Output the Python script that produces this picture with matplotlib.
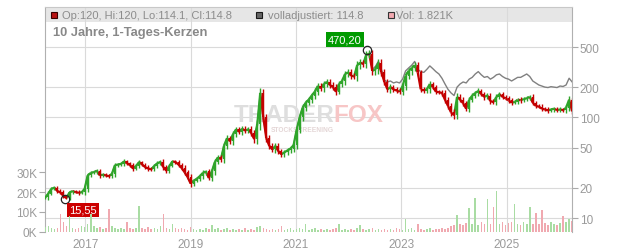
import matplotlib
matplotlib.use('Agg')
import matplotlib.pyplot as plt
import matplotlib.dates as mdates
from matplotlib.patches import Rectangle
from matplotlib.collections import LineCollection
from matplotlib.ticker import NullLocator
import pandas as pd

plt.rcParams['font.family'] = ['Liberation Sans', 'DejaVu Sans']

# ---------------- data ----------------
start_date = '2016-03-29'
period = '21D'
close = [
    16.0, 17.5, 19.5, 20.0, 18.5, 18.0, 16.5, 15.8, 18.0, 18.5,
    18.1, 17.8, 18.0, 19.5, 26.5, 28.0, 28.6, 29.5, 26.5, 27.0,
    26.5, 26.0, 27.5, 33.5, 34.0, 34.5, 36.5, 35.0, 33.5, 31.0,
    33.0, 36.0, 34.0, 32.0, 31.0, 30.5, 33.0, 35.0, 36.0, 32.0,
    29.5, 33.0, 36.5, 36.0, 34.0, 31.5, 28.5, 25.5, 22.0, 23.5,
    24.5, 26.0, 28.0, 29.0, 25.0, 29.0, 36.0, 40.0, 38.5, 52.0,
    62.0, 58.0, 68.0, 76.0, 72.0, 77.0, 74.0, 76.0, 70.0, 61.0,
    85.0, 175.0, 100.0, 62.0, 52.0, 48.0, 52.0, 46.0, 43.0, 45.0,
    47.0, 49.0, 53.0, 75.0, 100.0, 125.0, 140.0, 150.0, 165.0, 180.0,
    205.0, 195.0, 215.0, 225.0, 210.0, 200.0, 180.0, 215.0, 230.0, 270.0,
    280.0, 260.0, 255.0, 330.0, 350.0, 340.0, 420.0, 430.0, 290.0, 300.0,
    350.0, 280.0, 225.0, 190.0, 200.0, 190.0, 185.0, 180.0, 205.0, 260.0,
    290.0, 310.0, 330.0, 280.0, 190.0, 185.0, 190.0, 215.0, 200.0, 180.0,
    178.0, 175.0, 150.0, 130.0, 112.0, 105.0, 160.0, 150.0, 138.0, 122.0,
    150.0, 165.0, 175.0, 183.0, 170.0, 160.0, 165.0, 145.0, 142.0, 160.0,
    170.0, 160.0, 155.0, 148.0, 140.0, 142.0, 150.0, 148.0, 152.0, 155.0,
    160.0, 140.0, 130.0, 128.0, 122.0, 120.0, 117.0, 120.0, 122.0, 118.0,
    120.0, 118.0, 125.0, 150.0, 114.8,
]
# estimated intra-period price range (percent above/below body), read from ribbon thickness
range_pct = [
    4, 5, 4, 3, 5, 4, 5, 3, 4, 3,
    3, 4, 3, 5, 6, 4, 3, 4, 5, 3,
    4, 3, 5, 6, 4, 3, 5, 4, 3, 5,
    4, 5, 3, 4, 5, 3, 4, 5, 4, 6,
    5, 4, 3, 4, 5, 4, 6, 5, 7, 5,
    4, 5, 6, 4, 5, 6, 7, 5, 6, 8,
    7, 6, 8, 6, 5, 7, 6, 5, 7, 8,
    10, 12, 10, 9, 7, 6, 7, 6, 5, 6,
    5, 6, 7, 8, 7, 8, 7, 6, 7, 8,
    7, 6, 8, 7, 6, 7, 8, 6, 7, 8,
    7, 8, 6, 9, 8, 7, 9, 8, 9, 8,
    9, 8, 7, 6, 7, 6, 5, 6, 7, 8,
    7, 8, 7, 8, 6, 5, 6, 7, 5, 6,
    5, 6, 7, 6, 8, 9, 8, 6, 7, 6,
    7, 6, 5, 6, 5, 6, 5, 6, 5, 6,
    5, 4, 5, 6, 5, 4, 5, 6, 4, 5,
    5, 6, 5, 4, 5, 4, 5, 4, 5, 4,
    5, 4, 6, 8, 5,
]
# fully adjusted line where it separates from the candles (from period 108 on)
adj_start = 108
adj_tail = [
    300, 320, 360, 300, 235, 225, 230, 220, 225, 220,
    240, 290, 310, 330, 360, 300, 285, 280, 300, 325,
    305, 285, 270, 245, 215, 190, 175, 165, 200, 215,
    225, 220, 240, 250, 270, 285, 265, 250, 255, 240,
    250, 265, 270, 255, 245, 240, 230, 240, 250, 250,
    260, 270, 255, 230, 220, 210, 205, 200, 198, 202,
    200, 198, 205, 203, 210, 245, 225,
]
volume_k = [
    2.5, 3, 2, 1.5, 2, 9, 5, 3, 8, 2,
    1.5, 2, 3, 2.5, 4, 9, 3, 2, 2.5, 1.5,
    2, 11.5, 3, 2, 1.5, 2, 1.5, 5, 2, 1.5,
    2, 13, 2, 1.5, 2.5, 1.5, 2, 1.5, 3, 9,
    2, 1.5, 4, 2, 1.5, 2, 1.5, 1, 2.5, 1.5,
    1, 1.5, 1, 2, 1.5, 3.5, 1.5, 2, 1, 1.5,
    2, 1, 1.5, 1, 1.5, 1, 2, 1, 1.5, 1,
    2.5, 3, 2, 1.5, 1, 1.5, 1, 1.5, 3, 1,
    1.5, 2, 1, 1.5, 2, 1.5, 4, 1, 1.5, 2,
    1, 1.5, 1, 1.5, 1, 1.5, 2, 4, 1, 1.5,
    1, 1.5, 1, 2, 3.5, 1.5, 1, 1.5, 2, 1,
    1.5, 1, 1.5, 1, 1.5, 1, 2, 1.5, 1, 6.5,
    1.5, 2, 1, 4, 1.5, 1, 1.5, 2, 1, 1.5,
    1.5, 2, 1.5, 2, 3, 3.5, 8.5, 4, 3.5, 4.5,
    12, 4, 17, 3.5, 5, 4, 16.5, 4, 12.5, 20.5,
    4, 5, 3.5, 4.5, 5, 14, 4, 3.5, 5, 4,
    12.5, 4, 9.5, 4, 11, 4.5, 3.5, 5, 4, 3.5,
    4.5, 8, 5, 6.5, 5.5,
]
year_ticks = ['2017', '2019', '2021', '2023', '2025']
price_ticks = [10, 20, 50, 100, 200, 500]
vol_ticks = [0, 10, 20, 30]
vol_labels = ['0K', '10K', '20K', '30K']
x_range = ('2016-03-27', '2026-03-30')
hi_date, hi_val, hi_label = '2022-05-08', 470.2, '470,20'
lo_date, lo_val, lo_label = '2016-08-13', 15.55, '15,55'
header_ohlc = 'Op:120, Hi:120, Lo:114.1, Cl:114.8'
header_adj = 'volladjustiert: 114.8'
header_vol = 'Vol: 1.821K'
title = '10 Jahre, 1-Tages-Kerzen'

# ---------------- figure ----------------
W, H = 632, 253
fig = plt.figure(figsize=(W / 100, H / 100), dpi=100)
def P(x, y):
    return (x / W, 1 - y / H)

L, R, T, B = 45, 572, 8, 233
ax = fig.add_axes([L / W, (H - B) / H, (R - L) / W, (B - T) / H])
axv = ax.twinx()

dates = pd.date_range(start_date, periods=len(close), freq=period)
xd = mdates.date2num(dates)

GREEN = '#2fa52a'
RED = '#c40000'

# adjusted (grey) line, behind candles
adj = close[:adj_start] + adj_tail
ax.plot(xd, adj, color='#808080', lw=1.0, zorder=2)

# candles: open = previous close
opens = [close[0]] + close[:-1]
cols = [GREEN if c >= o else RED for o, c in zip(opens, close)]
segs = [[(xd[i - 1], close[i - 1]), (xd[i], close[i])] for i in range(1, len(close))]
ax.add_collection(LineCollection(segs, colors=cols[1:], linewidths=1.6, zorder=3,
                                 capstyle='butt'))
lo_ = [min(o, c) for o, c in zip(opens, close)]
hi_ = [max(o, c) for o, c in zip(opens, close)]
ax.vlines(xd, lo_, hi_, colors=cols, lw=1.5, zorder=3)
wick_lo = [l * (1 - r / 100) for l, r in zip(lo_, range_pct)]
wick_hi = [h * (1 + r / 100) for h, r in zip(hi_, range_pct)]
ax.vlines(xd, wick_lo, wick_hi, colors=cols, lw=1.0, zorder=3)

ax.set_yscale('log')
ax.set_ylim(7.26, 1251)
ax.set_xlim(mdates.date2num(pd.Timestamp(x_range[0])), mdates.date2num(pd.Timestamp(x_range[1])))

# volume
vcols = ['#a9dca3' if c == GREEN else '#f0a9b0' for c in cols]
axv.bar(xd, volume_k, width=11, color=vcols, zorder=2, linewidth=0)
axv.set_ylim(0, 112.5)

# grid
ax.set_axisbelow(True)
ax.set_xticks([mdates.date2num(pd.Timestamp(y + '-01-01')) for y in year_ticks])
ax.set_xticklabels(year_ticks)
ax.set_yticks(price_ticks)
ax.set_yticklabels([str(v) for v in price_ticks])
ax.yaxis.set_minor_locator(NullLocator())
ax.grid(True, color='#dadada', lw=0.8)
ax.yaxis.tick_right()
ax.tick_params(axis='y', which='major', direction='out', length=4, width=0.8, color='#aaaaaa',
               labelcolor='#9a9a9a', labelsize=8.5, pad=1.5)
ax.tick_params(axis='x', length=0, labelcolor='#9a9a9a', labelsize=8.5, pad=4)

axv.yaxis.tick_left()
axv.set_yticks(vol_ticks)
axv.set_yticklabels(vol_labels)
axv.tick_params(axis='y', direction='out', length=4, width=0.8, color='#aaaaaa',
                labelcolor='#9a9a9a', labelsize=8.5, pad=1.5)

for s in axv.spines.values():
    s.set_visible(False)
ax.spines['bottom'].set_visible(False)
ax.spines['left'].set_color('#b0b0b0')
ax.spines['right'].set_color('#b0b0b0')
ax.spines['top'].set_color('#c8c8c8')
for s in ('left', 'right', 'top'):
    ax.spines[s].set_linewidth(0.8)

# header band
ax.add_patch(Rectangle((0, 1 - 15 / (B - T)), 1, 15 / (B - T), transform=ax.transAxes,
                       facecolor='#e6e6e6', edgecolor='none', zorder=0.2))

# watermark
def axp(x, y):
    return ((x - L) / (R - L), 1 - (y - T) / (B - T))
ax.text(*axp(234, 115.5), 'TRADER', transform=ax.transAxes,
        fontsize=17.5, fontweight='bold', color='#dedede', ha='left', va='center', zorder=1)
ax.text(*axp(333, 115.5), 'FOX', transform=ax.transAxes,
        fontsize=17.5, fontweight='bold', color='#f7c6c6', ha='left', va='center', zorder=1)
ax.text(*axp(302, 130), 'STOCKSCREENING', transform=ax.transAxes,
        fontsize=4.8, fontweight='bold', color='#e4d6d6', ha='center', va='center', zorder=1)

# header legend
def square(x, fc, ec):
    fig.add_artist(Rectangle(P(x, 18.7), 6 / W, 6 / H, transform=fig.transFigure,
                             facecolor=fc, edgecolor=ec, lw=0.8))
square(51, '#b81414', '#3a0000')
fig.text(*P(62, 15.8), header_ohlc, fontsize=8, color='#8c8c8c', va='center', ha='left')
square(256, '#666666', '#1a1a1a')
fig.text(*P(268, 15.8), header_adj, fontsize=8, color='#8c8c8c', va='center', ha='left')
square(388, '#f2a9b0', '#333333')
fig.text(*P(396, 15.8), header_vol, fontsize=8, color='#8c8c8c', va='center', ha='left')
fig.text(*P(53, 33), title, fontsize=9.3, fontweight='bold', color='#888888', va='center', ha='left')

# extreme markers
for d, v, lab, fc, off in [(hi_date, hi_val, hi_label, '#009a00', (-16, 7.5)),
                           (lo_date, lo_val, lo_label, '#cc0000', (13, -8))]:
    xdv = mdates.date2num(pd.Timestamp(d))
    ax.plot([xdv], [v], marker='o', ms=6, mfc='none', mec='#222222', mew=0.9, zorder=5)
    ax.annotate(lab, xy=(xdv, v), xytext=off, textcoords='offset points',
                ha='center', va='center', fontsize=8, color='white', zorder=6,
                bbox=dict(boxstyle='square,pad=0.2', fc=fc, ec='none'))

fig.savefig('out.png', dpi=100)
